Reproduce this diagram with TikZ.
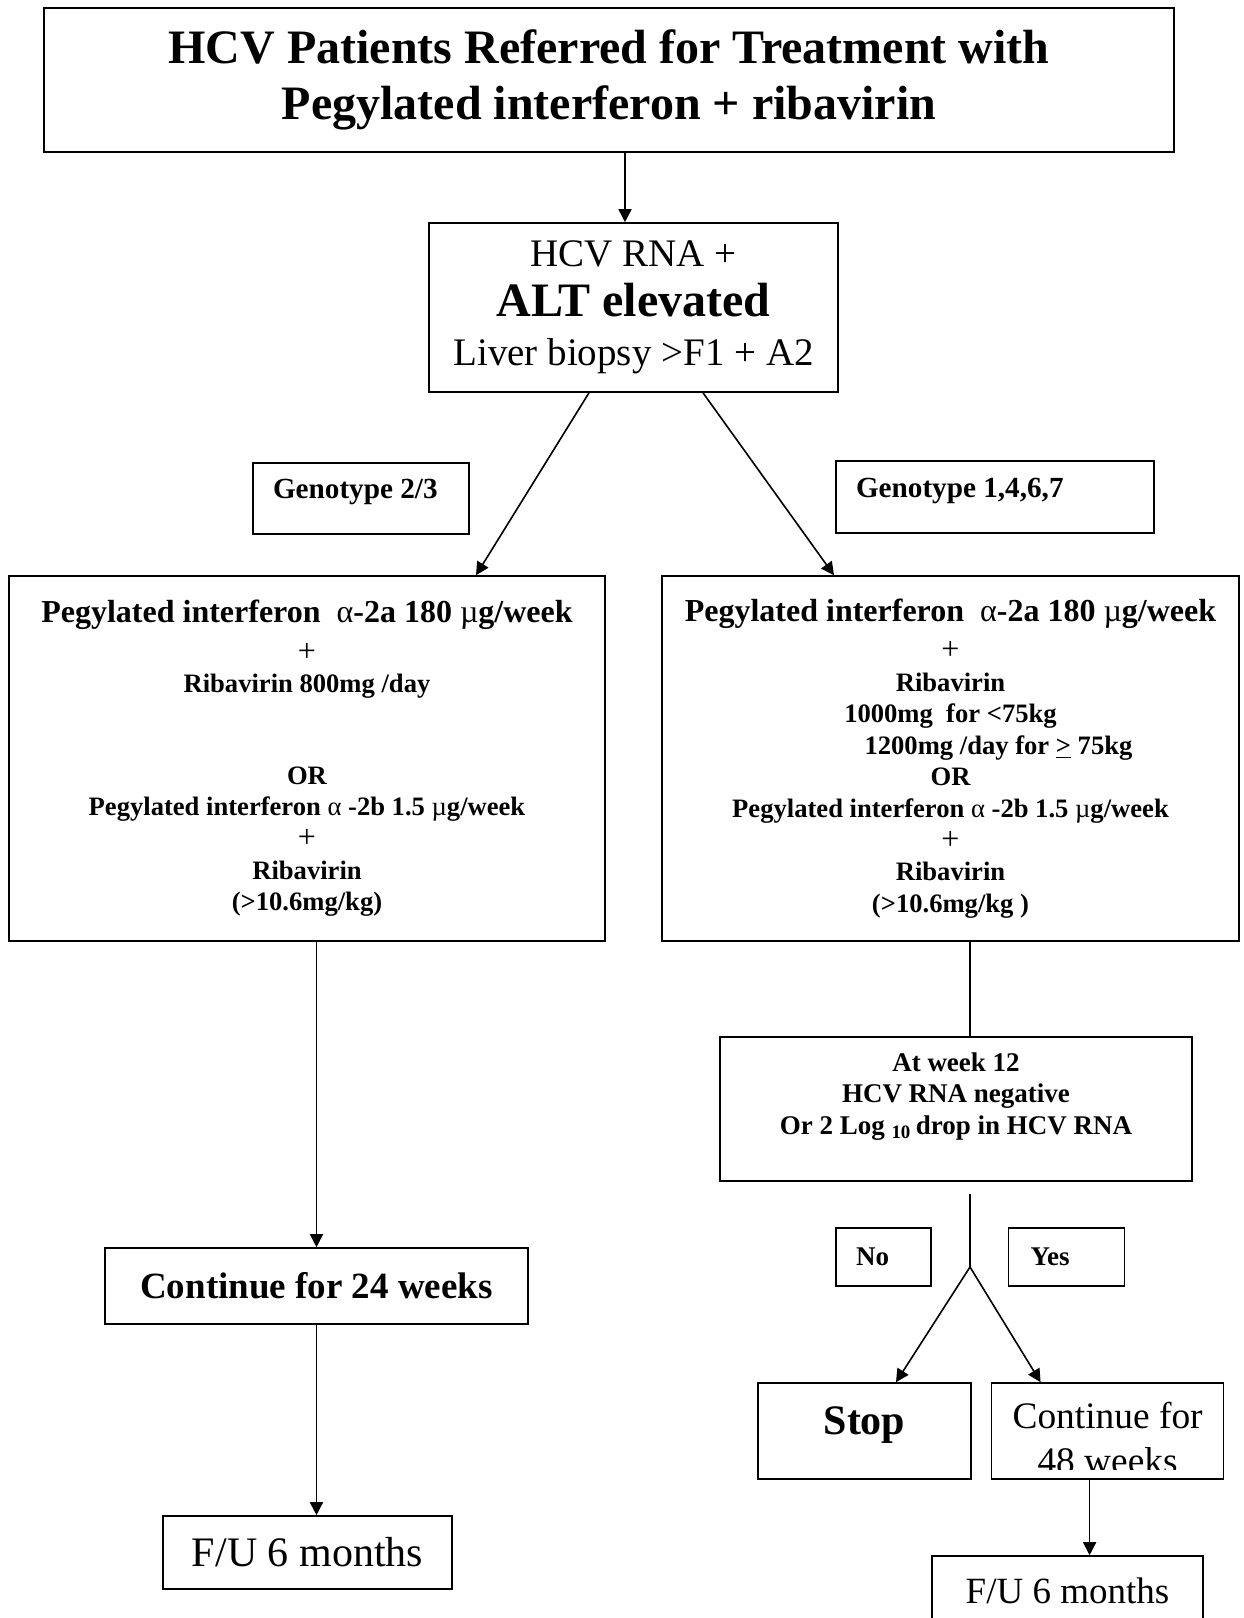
\documentclass[tikz,border=0pt]{standalone}
\usepackage{fontspec}
\setmainfont{Liberation Serif}
\usetikzlibrary{
        arrows.meta,
        calc,
        positioning
    }
\tikzset{>={Triangle[length=6.5pt,width=6.5pt]}}
\tikzset{flowbox/.style={draw,rectangle,inner sep=0pt,align=center}}
\tikzset{tagbox/.style={draw,rectangle,inner xsep=10pt,inner ysep=0pt,align=flush left,
        font=\fontsize{14.6}{17}\selectfont\bfseries}}
\tikzset{regimen/.style={flowbox,minimum height=182.5pt,
        font=\fontsize{13.3}{15.8}\selectfont\bfseries}}
\newcommand{\peglead}{\fontsize{16}{15.8}\selectfont}

\begin{document}
\begin{tikzpicture}[x=0.5pt,y=-0.5pt,line width=0.8pt]
				\useasboundingbox (0,0) rectangle (1243,1618);
				\clip (0,0) rectangle (1243,1618);
				\node[flowbox,minimum width=565pt,minimum height=72pt,font=\fontsize{24}{27.8}\selectfont\bfseries] (top) at (609,80)
					{HCV Patients Referred for Treatment with\\Pegylated interferon + ribavirin};
				\node[flowbox,minimum width=204.5pt,minimum height=84.5pt,font=\fontsize{19.5}{24.7}\selectfont] (hcv) at (633.5,307.5)
					{HCV RNA +\\{\fontsize{24}{24.7}\selectfont\bfseries ALT elevated}\\Liver biopsy >F1 + A2};
				\node[tagbox,text width=88pt,minimum height=35.5pt,text depth=9.6pt] (geno23) at (361,498.5) {Genotype 2/3};
				\node[tagbox,text width=139pt,minimum height=36pt,text depth=9.6pt] (geno1467) at (995,497) {Genotype 1,4,6,7};
				% the two treatment regimens
				\node[regimen,minimum width=298pt] (left) at (307,758.5)
					{{\peglead Pegylated interferon\ \ \textmd{α}-2a 180 \textmd{µ}g/week}\\[3.3pt]
					 {\peglead\mdseries +}\\
					 Ribavirin 800mg /day\\[30pt]
					 OR\\
					 Pegylated interferon \textmd{α} -2b 1.5 \textmd{µ}g/week\\
					 {\peglead\mdseries +}\\
					 Ribavirin\\
					 (>10.6mg/kg)};
				\node[regimen,minimum width=288.5pt] (right) at (950.5,758.5)
					{{\peglead Pegylated interferon\ \ \textmd{α}-2a 180 \textmd{µ}g/week}\\[3.3pt]
					 {\peglead\mdseries +}\\
					 Ribavirin\\
					 1000mg\ \ for <75kg\\
					 \hspace*{48pt}1200mg /day for \underline{>} 75kg\\
					 OR\\
					 Pegylated interferon \textmd{α} -2b 1.5 \textmd{µ}g/week\\
					 {\peglead\mdseries +}\\
					 Ribavirin\\
					 (>10.6mg/kg )};
				\node[flowbox,minimum width=211.5pt,minimum height=38pt,font=\fontsize{18.5}{22}\selectfont\bfseries] (cont24) at (316.5,1286)
					{Continue for 24 weeks};
				\node[flowbox,minimum width=144.5pt,minimum height=36.5pt,font=\fontsize{21}{24}\selectfont] (fu24) at (307.5,1552.5)
					{F/U 6 months};
				\node[flowbox,minimum width=236pt,minimum height=72pt,font=\fontsize{13.5}{15.75}\selectfont\bfseries] (week) at (956,1109)
					{At week 12\\HCV RNA negative\\Or 2 Log \textsubscript{10}\,drop in HCV RNA\\\mbox{}};
				\node[tagbox,text width=27.5pt,minimum height=29pt,font=\fontsize{13.5}{16}\selectfont\bfseries] (no) at (883.5,1257) {No};
				\node[tagbox,inner xsep=11pt,text width=36pt,minimum height=29pt,font=\fontsize{13.5}{16}\selectfont\bfseries] (yes) [right=38pt of no] {Yes};
				\node[flowbox,minimum width=106.5pt,minimum height=48pt,text depth=10.5pt,font=\fontsize{21}{24}\selectfont\bfseries] (stop) at (864.5,1431)
					{Stop};
				\node[flowbox,minimum width=116pt,minimum height=48pt] (cont48) [right=9.5pt of stop] {};
				\begin{scope}
					\clip (cont48.north west) rectangle ([yshift=5pt]cont48.south east);
					\node[align=center,inner sep=0pt,font=\fontsize{18.7}{22.5}\selectfont] (cont48text) at ([yshift=-3.5pt]cont48.center)
						{Continue for\\48 weeks};
				\end{scope}
				\node[flowbox,minimum width=135.5pt,minimum height=35pt,font=\fontsize{18.5}{22}\selectfont] (fu48) at (1067.5,1591)
					{F/U 6 months};
				% connectors
				\coordinate (in1) at ($(hcv.north)+(-8.5,0)$);
				\coordinate (split) at (970,1267);
				\coordinate (out48) at ($(cont48.south)+(-18,0)$);
				\path[->]
					(in1 |- top.south) edge (in1)
					($(hcv.south)+(-44.5,0)$) edge ($(left.north)+(169,0)$)
					($(hcv.south)+(69.5,0)$) edge ($(right.north)+(-116.5,0)$)
					(cont24.north |- left.south) edge (cont24.north)
					(cont24.south) edge (cont24.south |- fu24.north)
					(split) edge ($(stop.north)+(31.5,0)$)
					(split) edge ($(cont48.north)+(-67,0)$)
					(out48) edge (out48 |- fu48.north);
				\draw (split |- right.south) -- (split |- week.north);
				\draw ($(split |- week.south)+(0,12)$) -- (split);
			\end{tikzpicture}
\end{document}
